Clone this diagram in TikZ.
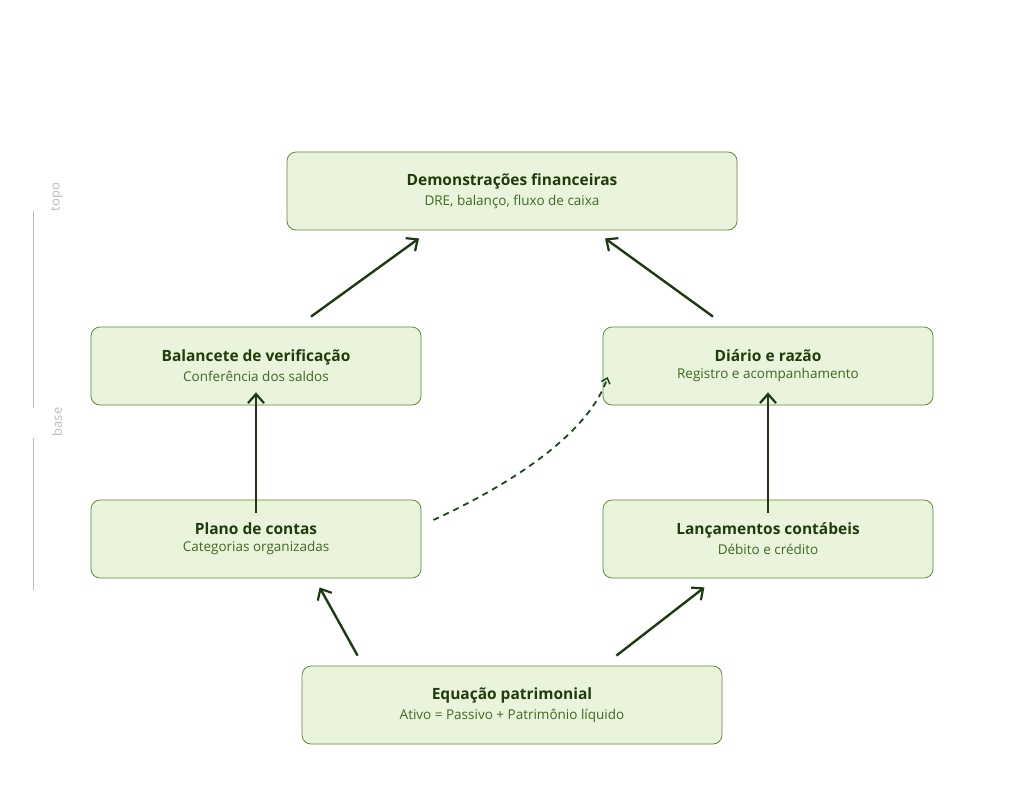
\documentclass[tikz,border=0pt]{standalone}
\usepackage{fontspec}
\setmainfont{Open Sans}
\usetikzlibrary{arrows.meta,positioning}
\definecolor{boxfill}{HTML}{EAF3DC}
\definecolor{boxline}{HTML}{5E8C3A}
\definecolor{ttl}{HTML}{1F3D0C}
\definecolor{sub}{HTML}{3D6B1F}
\definecolor{arr}{HTML}{1E3A12}
\definecolor{axis}{HTML}{BBBBBB}
\newcommand{\stage}[2]{{\fontsize{15.5}{18}\selectfont\bfseries\color{ttl}#1}\\[5pt]{\fontsize{13.5}{16}\selectfont\color{sub}#2}}
\begin{document}
\begin{tikzpicture}[x=1pt,y=-1pt,
        box/.style={draw=boxline, line width=0.8pt, rounded corners=9pt, fill=boxfill, align=center, minimum width=330pt, minimum height=78pt, inner sep=0pt},
        up/.style={draw=arr, line width=2.4pt, -{Straight Barb[length=9pt,width=16pt,line width=2.2pt]}},
        axlab/.style={color=axis, rotate=90, font=\fontsize{13}{15}\selectfont}
    ]
    \useasboundingbox (0,0) rectangle (1024,787);

    % Nodes
    \node (top)[box, minimum width=450pt] at (512,191) {\stage{Demonstrações financeiras}{DRE, balanço, fluxo de caixa}};
    \node (bal)[box] at (256,366) {\stage{Balancete de verificação}{Conferência dos saldos}};
    \node (dia)[box] at (768,366) {\stage{Diário e razão}{Registro e acompanhamento}};
    \node (pla)[box] at (256,539) {\stage{Plano de contas}{Categorias organizadas}};
    \node (lan)[box] at (768,539) {\stage{Lançamentos contábeis}{Débito e crédito}};
    \node (equ)[box, minimum width=420pt] at (512,705) {\stage{Equação patrimonial}{Ativo = Passivo + Patrimônio líquido}};

    % Axis
    \node (topo)[axlab] at (57,197) {topo};
    \node (base)[axlab] at (57,422) {base};
    \draw[axis, line width=0.8pt] (33,211) -- (33,408);
    \draw[axis, line width=0.8pt] (33,438) -- (33,590);

    % Edges
    \draw[up] ([shift={(56,-10)}]equ.north west) -- ([shift={(229,9)}]pla.south west);
    \draw[up] ([shift={(-106,-10)}]equ.north east) -- ([shift={(-229,9)}]lan.south east);
    \draw[up] ([yshift=-13]pla.north) -- ([yshift=13]bal.south);
    \draw[up] ([yshift=-13]lan.north) -- ([yshift=13]dia.south);
    \draw[up] ([shift={(55,-10)}]bal.north) -- ([shift={(-93,8)}]top.south);
    \draw[up] ([shift={(-55,-10)}]dia.north) -- ([shift={(93,8)}]top.south);
    \draw[draw=gray!60!green!40!black, line width=1.8pt, dash pattern=on 6pt off 5pt, -{Straight Barb[length=5pt,width=9pt,line width=1.5pt]}]
        ([shift={(12,-19)}]pla.east) .. controls (520,480) and (590,430) .. ([shift={(5,11)}]dia.west);
\end{tikzpicture}
\end{document}
